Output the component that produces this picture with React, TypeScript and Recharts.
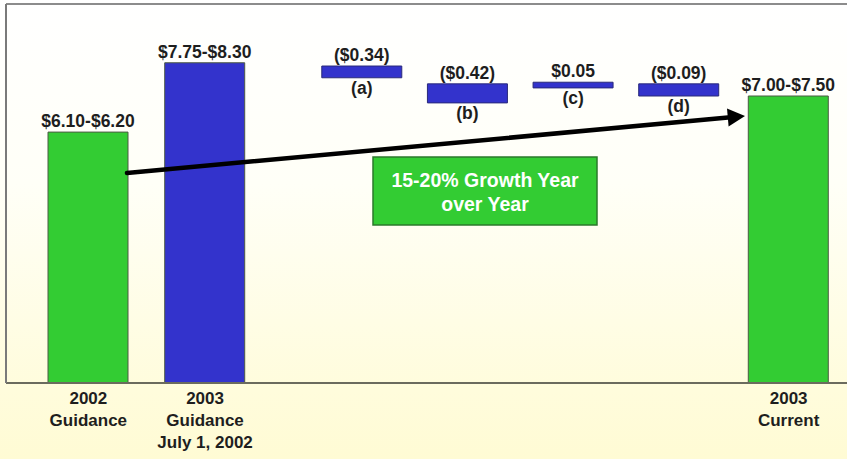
// Waterfall-style EPS bridge: 2002 guidance -> 2003 guidance -> adjustments -> current 2003.
import {
  BarChart,
  Bar,
  XAxis,
  YAxis,
  Cell,
  LabelList,
  ReferenceLine,
} from "recharts";

const categories = ["2002", "2003 Guidance", "a", "b", "c", "d", "2003 Current"];
const tickLines = [
  ["2002", "Guidance"],
  ["2003", "Guidance", "July 1, 2002"],
  [],
  [],
  [],
  [],
  ["2003", "Current"],
];

// [low, high] ranges (chart units)
const totals = [[0, 6.19], [0, 7.9], null, null, null, null, [0, 7.08]];
const adjustments = [null, null, [7.53, 7.82], [6.91, 7.38], [7.28, 7.42], [7.08, 7.38], null];

const valueLabels = ["$6.10-$6.20", "$7.75-$8.30", "($0.34)", "($0.42)", "$0.05", "($0.09)", "$7.00-$7.50"];
const notes = ["", "", "(a)", "(b)", "(c)", "(d)", ""];
const kinds = ["base", "guidance", "change", "change", "change", "change", "base"];
const growthNote = ["15-20% Growth Year", "over Year"];

const Y_MAX = 9.35;
const FONT = "'Liberation Sans', Arial, sans-serif";
const FILL: Record<string, string> = { base: "#33CC33", guidance: "#3333CC", change: "#3333CC" };

const data = categories.map((category, i) => ({
  category,
  total: totals[i],
  adj: adjustments[i],
  totalLabel: totals[i] ? valueLabels[i] : undefined,
  adjLabel: adjustments[i] ? valueLabels[i] : undefined,
  note: notes[i] || undefined,
  kind: kinds[i],
}));

const labelStyle = { fill: "#1e1e1e", fontSize: 17.5, fontWeight: 700, fontFamily: FONT };

const CategoryTick = (props: any) => {
  const { x, y, payload } = props;
  const lines = tickLines[categories.indexOf(payload.value)] || [];
  return (
    <text x={x} y={y} textAnchor="middle" fill="#1e1e1e" fontSize={17} fontWeight={700} fontFamily={FONT}>
      {lines.map((line, i) => (
        <tspan key={line} x={x} dy={i === 0 ? 21 : 22}>
          {line}
        </tspan>
      ))}
    </text>
  );
};

export default function App() {
  return (
    <div
      style={{
        position: "absolute",
        left: 0,
        top: 0,
        width: 847,
        height: 459,
        overflow: "hidden",
        background: "linear-gradient(to bottom, #ffffff 0%, #fffff7 40%, #fffcdc 85%, #fffbd4 100%)",
      }}
    >
      <BarChart width={847} height={459} data={data} margin={{ top: 4, right: 0, bottom: 0, left: 5 }}>
        <XAxis
          dataKey="category"
          height={76}
          interval={0}
          padding={{ left: 24, right: 0 }}
          axisLine={{ stroke: "#6b6b5e", strokeWidth: 2 }}
          tickLine={false}
          tickSize={0}
          tickMargin={0}
          tick={<CategoryTick />}
        />
        <XAxis xAxisId="adj" dataKey="category" hide padding={{ left: 91.5, right: 10 }} />
        <YAxis
          width={1}
          domain={[0, Y_MAX]}
          tick={false}
          tickLine={false}
          axisLine={{ stroke: "#7a7a7a", strokeWidth: 2 }}
        />
        <ReferenceLine y={Y_MAX} stroke="#8c8c8c" strokeWidth={2} />
        <Bar dataKey="total" barSize={80} stroke="#4d5a44" strokeWidth={1} isAnimationActive={false}>
          {data.map((d) => (
            <Cell key={d.category} fill={FILL[d.kind]} />
          ))}
          <LabelList dataKey="totalLabel" position="top" offset={5} style={labelStyle} />
        </Bar>
        <Bar
          dataKey="adj"
          xAxisId="adj"
          barSize={80}
          stroke="#2a2a7a"
          strokeWidth={1}
          isAnimationActive={false}
        >
          {data.map((d) => (
            <Cell key={d.category} fill={FILL[d.kind]} />
          ))}
          <LabelList dataKey="adjLabel" position="top" offset={5} style={labelStyle} />
          <LabelList dataKey="note" position="bottom" offset={4} style={labelStyle} />
        </Bar>
      </BarChart>
      <svg
        width={847}
        height={459}
        style={{ position: "absolute", left: 0, top: 0, pointerEvents: "none" }}
      >
        <line x1={127} y1={173} x2={728} y2={117.6} stroke="#000" strokeWidth={4.5} strokeLinecap="round" />
        <polygon points="745,116 727,108.5 728.6,126.5" fill="#000" />
        <rect x={373} y={157} width={224} height={68} fill="#33CC33" stroke="#2b7a2b" strokeWidth={1.5} />
        <text textAnchor="middle" fill="#ffffff" fontSize={19.5} fontWeight={700} fontFamily={FONT}>
          <tspan x={485} y={187}>
            {growthNote[0]}
          </tspan>
          <tspan x={485} y={211}>
            {growthNote[1]}
          </tspan>
        </text>
      </svg>
    </div>
  );
}
